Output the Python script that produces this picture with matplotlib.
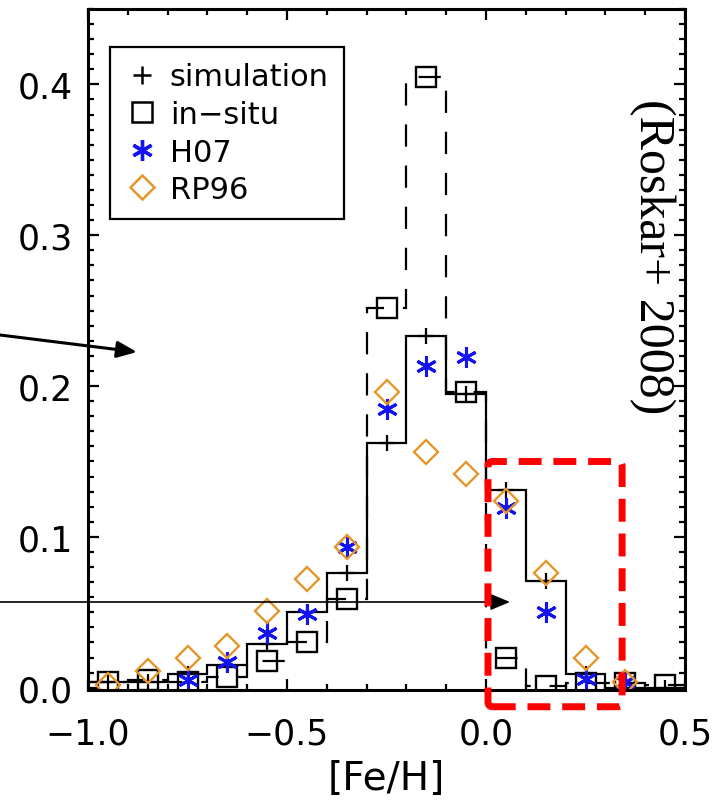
import numpy as np
import matplotlib
matplotlib.use('Agg')
import matplotlib.pyplot as plt
from matplotlib.patches import FancyBboxPatch
from matplotlib.lines import Line2D

# bins of [Fe/H], width 0.1
edges = np.round(np.arange(-1.0, 0.51, 0.1), 2)
centers = edges[:-1] + 0.05

simulation = [0.004, 0.004, 0.009, 0.015, 0.029, 0.050, 0.076, 0.162, 0.233, 0.195,
              0.131, 0.071, 0.009, 0.0, 0.0]
in_situ = [0.004, 0.005, 0.004, 0.007, 0.018, 0.030, 0.059, 0.252, 0.405, 0.196,
           0.020, 0.001, 0.003, 0.003, 0.002]
h07 = [np.nan, np.nan, 0.005, 0.017, 0.036, 0.049, 0.093, 0.185, 0.213, 0.219,
       0.119, 0.050, 0.006, 0.004, np.nan]
rp96 = [0.002, 0.011, 0.020, 0.028, 0.051, 0.072, 0.093, 0.196, 0.156, 0.142,
        0.124, 0.076, 0.020, 0.004, np.nan]

xticks = [-1.0, -0.5, 0.0, 0.5]
yticks = [0.0, 0.1, 0.2, 0.3, 0.4]

BLUE = '#1414f0'
ORANGE = '#e6962a'

fig = plt.figure(figsize=(7.19, 8.03), dpi=100)
ax = fig.add_axes([88 / 719, 1 - 691 / 803, 597 / 719, 681 / 803])

ax.stairs(simulation, edges, color='k', lw=1.6)
ax.stairs(in_situ, edges, color='k', lw=1.6, linestyle=(0, (10, 8.5)))
ax.plot(centers, simulation, ls='none', marker='+', ms=12, mew=1.6, color='k')
ax.plot(centers, in_situ, ls='none', marker='s', ms=15, mew=1.7, mfc='none', mec='k')
ax.plot(centers, h07, ls='none', marker=(6, 2, 0), ms=15, mew=2.2, color=BLUE)
ax.plot(centers, rp96, ls='none', marker='D', ms=12, mew=1.7, mfc='none', mec=ORANGE)

ax.set_xlim(-1.0, 0.5)
ax.set_ylim(-0.0015, 0.45)
ax.set_xticks(xticks)
ax.set_xticklabels(['\u22121.0', '\u22120.5', '0.0', '0.5'])
ax.set_xticks(np.arange(-1.0, 0.51, 0.1), minor=True)
ax.set_yticks(yticks)
ax.set_yticklabels(['0.0', '0.1', '0.2', '0.3', '0.4'])
ax.set_yticks(np.arange(0.0, 0.451, 0.01), minor=True)
ax.tick_params(which='both', direction='in', top=True, right=True, width=1.6)
ax.tick_params(which='major', length=8, labelsize=25)
ax.tick_params(which='minor', length=4)
ax.tick_params(axis='x', which='major', pad=19)
ax.tick_params(axis='y', which='major', pad=11)
for s in ax.spines.values():
    s.set_linewidth(2.2)
ax.set_xlabel('[Fe/H]', fontsize=28, labelpad=6)

handles = [
    Line2D([], [], ls='none', marker='+', ms=13, mew=1.8, color='k'),
    Line2D([], [], ls='none', marker='s', ms=14, mew=1.8, mfc='none', mec='k'),
    Line2D([], [], ls='none', marker=(6, 2, 0), ms=15, mew=2.4, color=BLUE),
    Line2D([], [], ls='none', marker='D', ms=12, mew=1.8, mfc='none', mec=ORANGE),
]
leg = ax.legend(handles, ['simulation', 'in\u2212situ', 'H07', 'RP96'],
                loc='upper left', bbox_to_anchor=(0.037, 0.944), borderaxespad=0,
                fontsize=22, labelspacing=0.28, handlelength=1.1, handletextpad=0.35,
                borderpad=0.5, fancybox=False, framealpha=1, edgecolor='k')
leg.get_frame().set_linewidth(1.6)

# red dashed box around the metal-rich tail
box = FancyBboxPatch((0.005, -0.0126), 0.337, 0.1626,
                     boxstyle='round,pad=0,rounding_size=0.012', mutation_aspect=0.27,
                     fill=False, ec='#ff0000', lw=5, linestyle=(0, (3.3, 1.7)),
                     clip_on=False, zorder=5)
ax.add_patch(box)

# arrows coming in from the left
ax.annotate('', xy=(137, 450), xytext=(0, 467), xycoords='figure pixels',
            textcoords='figure pixels', annotation_clip=False,
            arrowprops=dict(arrowstyle='-|>,head_length=1.2,head_width=0.5',
                            mutation_scale=10, lw=2.2, color='k', shrinkA=0, shrinkB=0))
ax.annotate('', xy=(510, 200), xytext=(0, 200), xycoords='figure pixels',
            textcoords='figure pixels', annotation_clip=False,
            arrowprops=dict(arrowstyle='-|>,head_length=1.2,head_width=0.5',
                            mutation_scale=10, lw=1.2, color='k', shrinkA=0, shrinkB=0))

fig.text(652 / 719, 1 - 257 / 803, '(Roskar+ 2008)', rotation=270, ha='center',
         va='center', fontsize=36, family='Liberation Serif')

fig.savefig('out.png', dpi=100)
